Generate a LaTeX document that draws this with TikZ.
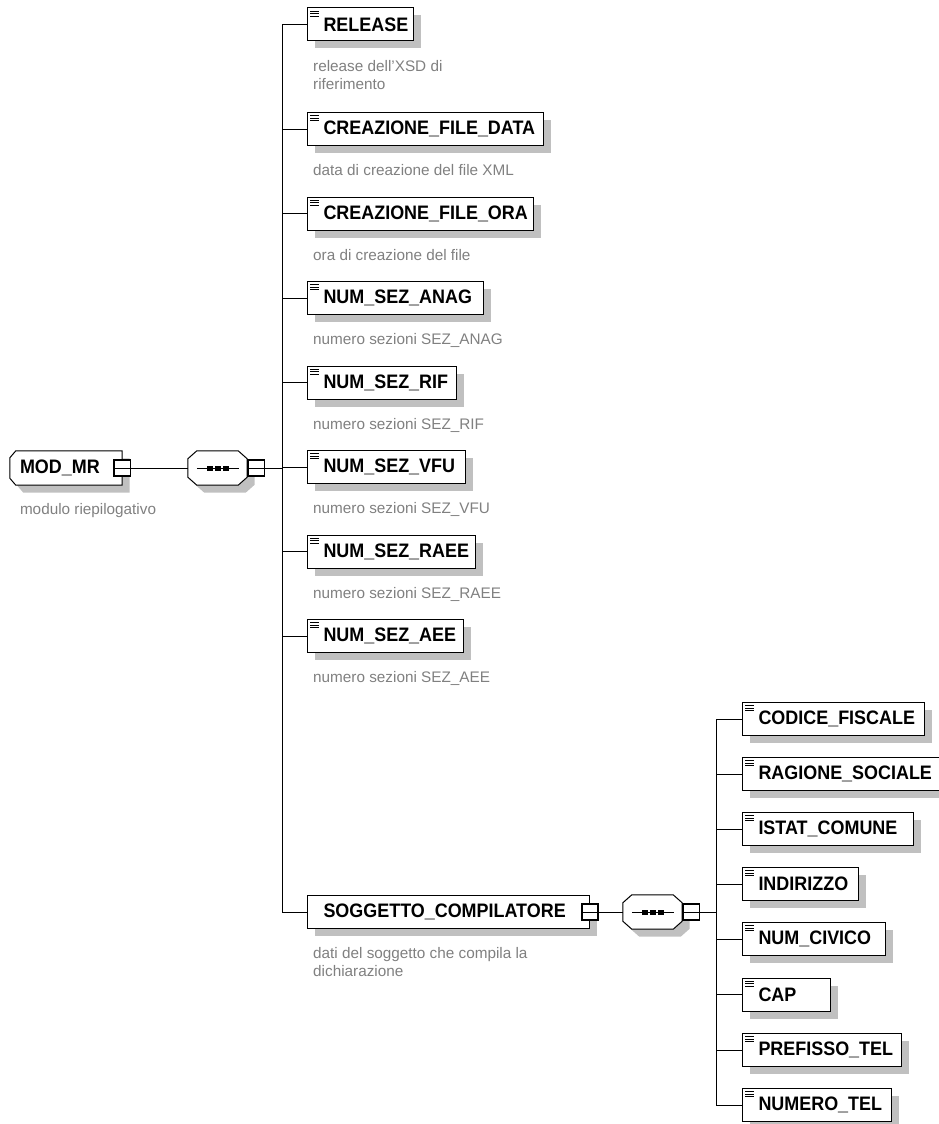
\documentclass[tikz,border=0pt]{standalone}
\usepackage{fontspec}
\setmainfont{Liberation Sans}
\newfontfamily\elemfamily[FakeStretch=0.92]{Liberation Sans}
\usetikzlibrary{shadows,calc}
\definecolor{shadowgray}{RGB}{192,192,192}
\definecolor{descgray}{RGB}{128,128,128}
\pgfdeclarelayer{background}
\pgfsetlayers{background,main}
\newcommand\elemfont{\elemfamily\fontsize{19.5}{22}\selectfont\bfseries}
\newcommand\descfont{\fontsize{15.3}{18}\selectfont}
\newcommand\etext[2]{\makebox[#1pt][l]{\hspace{16pt}#2}}
\newcommand\octshape[2]{\path[#2] ([xshift=9pt]#1.north west) -- ([xshift=-9pt]#1.north east) -- ([yshift=-8pt]#1.north east) -- ([yshift=8pt]#1.south east) -- ([xshift=-9pt]#1.south east) -- ([xshift=9pt]#1.south west) -- ([yshift=8pt]#1.south west) -- ([yshift=-8pt]#1.north west) -- cycle;}
\newcommand\rootshape[2]{\path[#2] ([xshift=6pt]#1.north west) -- (#1.north east) -- (#1.south east) -- ([xshift=6pt]#1.south west) -- ([yshift=7pt]#1.south west) -- ([yshift=-7pt]#1.north west) -- cycle;}
\newcommand\seqinner[1]{%
  \draw[line width=1pt] ([xshift=9pt]#1.west) -- ([xshift=-8pt]#1.east);
  \foreach \dx in {-11,-3,5}{\fill ([xshift=\dx pt,yshift=2.5pt]#1.center) rectangle ++(6,5);}}
\newcommand\icon[1]{\foreach \d in {3.5,6,8.5}{\draw[line width=0.6pt] ([xshift=3pt,yshift=-\d pt]#1.north west) -- ++(8.5,0);}}
\begin{document}
\begin{tikzpicture}[x=1pt,y=-1pt,
  elem/.style={draw=black, line width=1pt, fill=white, inner sep=0pt, minimum height=33pt, anchor=west, font=\elemfont,
    general shadow={fill=shadowgray, shadow xshift=7.5pt, shadow yshift=-7.5pt}},
  desc/.style={anchor=north west, inner sep=0pt, font=\descfont, text=descgray, align=left},
  minus/.style={draw=black, line width=1.6pt, fill=white, minimum size=16.5pt, inner sep=0pt,
    path picture={\draw[line width=0.9pt] (path picture bounding box.west) -- (path picture bounding box.east);}},
  holder/.style={inner sep=0pt, minimum width=#1, minimum height=34pt},
  conn/.style={draw=black, line width=1pt}
]
\useasboundingbox (0,0) rectangle (939,1124);
\clip (0,0) rectangle (939,1124);

% root
\node[holder=112pt, font=\elemfont] (m) at (66,468) {\makebox[112pt][l]{\hspace{10pt}MOD\_MR}};
\node[desc] (mdesc) at ([xshift=10pt,yshift=-18.5pt]m.south west) {modulo riepilogativo};
\node[minus] (mm) at (m.east) {};

% first sequence
\node[holder=59pt] (s1) at (217.5,468) {};
\node[minus, anchor=west] (s1m) at (s1.east) {};
\seqinner{s1}
\coordinate (lsp) at (282,468);

% left column elements
\node[elem] (rel)  at (307,24.5) {\etext{106}{RELEASE}};
\node[elem] (cfd)  at (307,129)  {\etext{236}{CREAZIONE\_FILE\_DATA}};
\node[elem] (cfo)  at (307,213.5) {\etext{226}{CREAZIONE\_FILE\_ORA}};
\node[elem] (anag) at (307,298)  {\etext{176}{NUM\_SEZ\_ANAG}};
\node[elem] (rif)  at (307,382.5) {\etext{149}{NUM\_SEZ\_RIF}};
\node[elem] (vfu)  at (307,467)  {\etext{158}{NUM\_SEZ\_VFU}};
\node[elem] (raee) at (307,551.5) {\etext{168}{NUM\_SEZ\_RAEE}};
\node[elem] (aee)  at (307,636)  {\etext{156}{NUM\_SEZ\_AEE}};
\node[elem] (sog)  at (307,912)  {\etext{282}{SOGGETTO\_COMPILATORE}};
\foreach \n in {rel,cfd,cfo,anag,rif,vfu,raee,aee}{\icon{\n}}

\node[desc] (reld)  at ([xshift=6pt,yshift=-18.5pt]rel.south west)  {release dell'XSD di\\riferimento};
\node[desc] (cfdd)  at ([xshift=6pt,yshift=-18.5pt]cfd.south west)  {data di creazione del file XML};
\node[desc] (cfod)  at ([xshift=6pt,yshift=-18.5pt]cfo.south west)  {ora di creazione del file};
\node[desc] (anagd) at ([xshift=6pt,yshift=-18.5pt]anag.south west) {numero sezioni SEZ\_ANAG};
\node[desc] (rifd)  at ([xshift=6pt,yshift=-18.5pt]rif.south west)  {numero sezioni SEZ\_RIF};
\node[desc] (vfud)  at ([xshift=6pt,yshift=-18.5pt]vfu.south west)  {numero sezioni SEZ\_VFU};
\node[desc] (raeed) at ([xshift=6pt,yshift=-18.5pt]raee.south west) {numero sezioni SEZ\_RAEE};
\node[desc] (aeed)  at ([xshift=6pt,yshift=-18.5pt]aee.south west)  {numero sezioni SEZ\_AEE};
\node[desc] (sogd)  at ([xshift=6pt,yshift=-18.5pt]sog.south west)  {dati del soggetto che compila la\\dichiarazione};

\node[minus] (sogm) at (sog.east) {};

% second sequence
\node[holder=59pt] (s2) at (652.5,912) {};
\node[minus, anchor=west] (s2m) at (s2.east) {};
\seqinner{s2}
\coordinate (rsp) at (716,912);

% right column elements
\node[elem] (cf)   at (742,719)  {\etext{182}{CODICE\_FISCALE}};
\node[elem] (rs)   at (742,774)  {\etext{205}{RAGIONE\_SOCIALE}};
\node[elem] (ist)  at (742,829)  {\etext{171}{ISTAT\_COMUNE}};
\node[elem] (ind)  at (742,884)  {\etext{116}{INDIRIZZO}};
\node[elem] (civ)  at (742,939)  {\etext{143}{NUM\_CIVICO}};
\node[elem] (cap)  at (742,994.5) {\etext{88}{CAP}};
\node[elem] (ptel) at (742,1050) {\etext{159}{PREFISSO\_TEL}};
\node[elem] (ntel) at (742,1105) {\etext{149}{NUMERO\_TEL}};
\foreach \n in {cf,rs,ist,ind,civ,cap,ptel,ntel}{\icon{\n}}

% background shapes
\begin{pgfonlayer}{background}
  \rootshape{m}{fill=shadowgray, transform canvas={shift={(7.5pt,-7.5pt)}}}
  \rootshape{m}{draw=black, line width=1pt, fill=white}
  \octshape{s1}{fill=shadowgray, transform canvas={shift={(7.5pt,-7.5pt)}}}
  \octshape{s1}{draw=black, line width=1pt, fill=white}
  \octshape{s2}{fill=shadowgray, transform canvas={shift={(7.5pt,-7.5pt)}}}
  \octshape{s2}{draw=black, line width=1pt, fill=white}
\end{pgfonlayer}

% connectors
\draw[conn] (mm.east) -- (s1.west);
\draw[conn] (s1m.east) -- (lsp);
\draw[conn] (rel.west) -- (rel.west -| lsp) -- (sog.west -| lsp) -- (sog.west);
\foreach \n in {cfd,cfo,anag,rif,vfu,raee,aee}{\draw[conn] (\n.west) -- (\n.west -| lsp);}
\draw[conn] (sogm.east) -- (s2.west);
\draw[conn] (s2m.east) -- (rsp);
\draw[conn] (cf.west) -- (cf.west -| rsp) -- (ntel.west -| rsp) -- (ntel.west);
\foreach \n in {rs,ist,ind,civ,cap,ptel}{\draw[conn] (\n.west) -- (\n.west -| rsp);}
\end{tikzpicture}
\end{document}
